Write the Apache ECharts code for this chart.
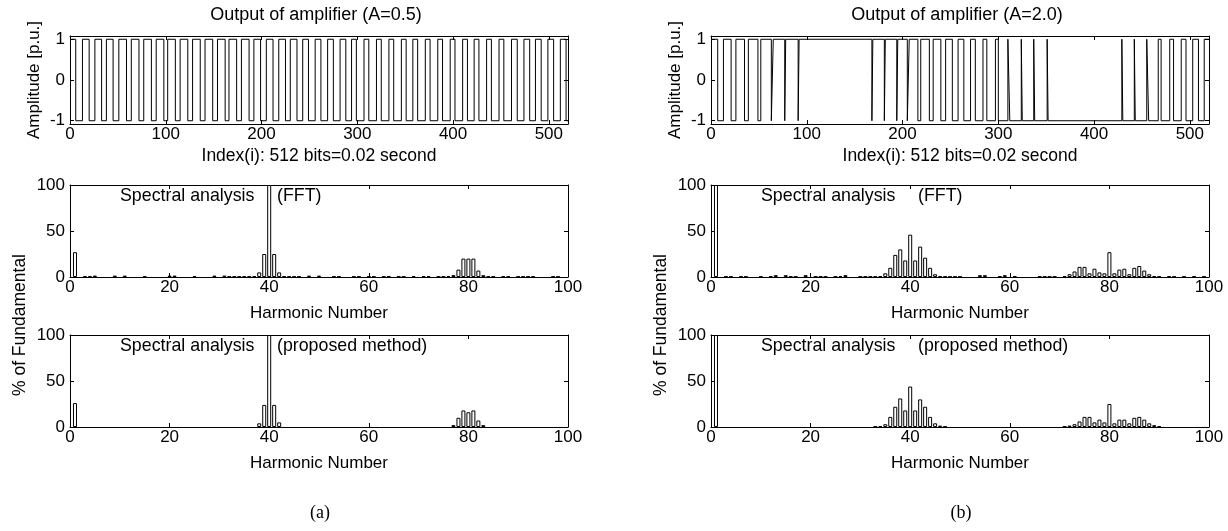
<!DOCTYPE html>
<html>
<head>
<meta charset="utf-8">
<script src="https://cdn.jsdelivr.net/npm/echarts@6/dist/echarts.min.js"></script>
<style>
  html, body { margin: 0; padding: 0; background: #fff; }
  #chart { width: 1228px; height: 531px; }
</style>
</head>
<body>
<div id="chart"></div>
<script>
// bit index where the amplifier output flips, output starts at +1
const edgesA = [6, 13, 20, 26, 33, 38, 45, 51, 59, 64, 72, 77, 85, 90, 98, 102, 110, 115, 123, 128,
  136, 141, 149, 154, 162, 166, 174, 179, 187, 192, 199, 205, 212, 218, 225, 230, 237, 243, 249, 256,
  262, 269, 275, 282, 288, 294, 299, 307, 312, 320, 325, 333, 338, 346, 351, 358, 363, 371, 376, 384,
  389, 397, 402, 410, 415, 422, 427, 435, 440, 448, 453, 461, 467, 474, 480, 486, 492, 499, 505, 512, 518];
const edgesB = [7, 13, 21, 26, 35, 39, 49, 52, 63, 65, 77, 78, 91, 92, 168, 169, 181, 182, 194, 195,
  205, 207, 216, 219, 228, 232, 240, 245, 252, 258, 264, 271, 276, 284, 288, 297, 300, 310, 312, 324,
  325, 337, 338, 351, 352, 429, 430, 442, 443, 455, 457, 467, 470, 479, 483, 491, 496, 503, 509, 515];
const waveEnd = 520;
const indexTicks = [0, 100, 200, 300, 400, 500];
const amplitudeTicks = [-1, 0, 1];

// spectra, [harmonic, % of fundamental]
const fftA = [[1, 27], [3, 1], [4, 1], [5, 1.5], [9, 1.5], [11, 1.5], [15, 1], [20, 1.5], [21, 1.5],
  [25, 1], [29, 1.5], [31, 1.5], [32, 0.5], [33, 0.5], [34, 0.5], [35, 0.5], [36, 0.5], [37, 1],
  [38, 5], [39, 25], [40, 100], [41, 25], [42, 5], [43, 1], [44, 0.5], [45, 0.5], [46, 0.5],
  [48, 1.5], [50, 1.5], [53, 0.5], [54, 0.5], [57, 0.5], [58, 0.5], [60, 0.5], [61, 0.5], [63, 0.5],
  [64, 0.5], [66, 0.5], [67, 0.5], [69, 1], [71, 1], [72, 1], [74, 0.5], [75, 0.5], [76, 1],
  [77, 2], [78, 8], [79, 20], [80, 20], [81, 20], [82, 7], [83, 2], [84, 1], [85, 0.5], [87, 1],
  [88, 1], [90, 0.5], [91, 0.5], [92, 0.5], [93, 0.5], [97, 0.5], [98, 0.5]];
const propA = [[1, 26], [38, 4], [39, 24], [40, 100], [41, 24], [42, 5],
  [77, 2], [78, 10], [79, 18], [80, 16], [81, 18], [82, 7], [83, 2]];
const fftB = [[1, 100], [3, 0.5], [4, 0.5], [6, 0.5], [7, 0.5], [10, 0.5], [12, 1], [13, 2], [15, 2],
  [16, 0.5], [17, 0.5], [19, 2], [21, 0.5], [22, 0.5], [23, 0.5], [25, 0.5], [26, 1], [27, 2],
  [30, 0.5], [31, 0.5], [32, 0.5], [33, 0.5], [34, 1], [35, 4], [36, 10], [37, 24], [38, 30],
  [39, 18], [40, 46], [41, 18], [42, 33], [43, 21], [44, 10], [45, 3], [46, 1], [47, 0.5],
  [48, 0.5], [49, 0.5], [50, 0.5], [54, 2], [55, 2], [58, 1], [59, 2], [61, 1], [66, 0.5],
  [67, 0.5], [68, 0.5], [69, 0.5], [71, 1], [72, 3], [73, 6], [74, 11], [75, 11], [76, 4],
  [77, 9], [78, 5], [79, 4], [80, 27], [81, 4], [82, 8], [83, 9], [84, 3], [85, 10], [86, 12],
  [87, 7], [88, 3], [89, 1], [90, 0.5], [92, 1], [93, 0.5], [95, 0.5], [97, 1], [99, 0.5]];
const propB = [[1, 100], [33, 0.5], [34, 1], [35, 3], [36, 11], [37, 22], [38, 31], [39, 18],
  [40, 44], [41, 18], [42, 30], [43, 22], [44, 11], [45, 4], [46, 1.5], [47, 0.5],
  [71, 0.5], [72, 1.5], [73, 3], [74, 6], [75, 11], [76, 11], [77, 5], [78, 8], [79, 5],
  [80, 25], [81, 4], [82, 8], [83, 8], [84, 4], [85, 10], [86, 11], [87, 8], [88, 4], [89, 2], [90, 1]];

const FONT = "Liberation Sans, Arial, sans-serif";
const SERIF = "Liberation Serif, Times New Roman, serif";
const FS = 17;

// two corner points per flip so every edge is drawn straight up/down
const toStairs = (edges) => {
  let lvl = 1;
  const pts = [[0, 1]];
  edges.forEach((e) => {
    pts.push([e, lvl]);
    lvl = -lvl;
    pts.push([e, lvl]);
  });
  pts.push([waveEnd, lvl]);
  return pts;
};

const grids = [
  { left: 70, top: 36, width: 498, height: 88 },
  { left: 70, top: 185, width: 498, height: 92 },
  { left: 70, top: 335, width: 498, height: 92 },
  { left: 711, top: 36, width: 498, height: 88 },
  { left: 711, top: 185, width: 498, height: 92 },
  { left: 711, top: 335, width: 498, height: 92 }
];

const lineCol = { lineStyle: { color: "#000", width: 1 } };
const xAxes = [];
const yAxes = [];
const series = [];

const addPanel = (gi, isWave, data, xName) => {
  const xRange = isWave ? { min: 0, max: waveEnd } : { min: 0, max: 100, interval: 20 };
  const yRange = isWave ? { min: -1.08, max: 1.08 } : { min: 0, max: 100, interval: 50 };
  const xTick = isWave ? { customValues: indexTicks } : {};
  const yTick = isWave ? { customValues: amplitudeTicks } : {};
  ["bottom", "top"].forEach((pos, k) => {
    xAxes.push({
      type: "value", gridIndex: gi, position: pos, ...xRange,
      name: k === 0 ? xName : "", nameLocation: "middle", nameGap: isWave ? 23 : 28,
      nameTextStyle: { color: "#000", fontFamily: FONT, fontSize: isWave ? 17.5 : FS },
      axisLine: { onZero: false, ...lineCol },
      axisTick: { inside: true, length: 4, ...lineCol, ...xTick },
      axisLabel: { show: k === 0, color: "#000", fontFamily: FONT, fontSize: FS, margin: 2, ...xTick },
      splitLine: { show: false }
    });
  });
  ["left", "right"].forEach((pos, k) => {
    yAxes.push({
      type: "value", gridIndex: gi, position: pos, ...yRange,
      axisLine: { onZero: false, ...lineCol },
      axisTick: { inside: true, length: 4, ...lineCol, ...yTick },
      axisLabel: { show: k === 0, color: "#000", fontFamily: FONT, fontSize: FS, margin: 5, ...yTick },
      splitLine: { show: false }
    });
  });
  const idx = gi * 2;
  if (isWave) {
    series.push({
      type: "line", xAxisIndex: idx, yAxisIndex: idx, data: toStairs(data),
      showSymbol: false, silent: true, lineStyle: { color: "#000", width: 1 }
    });
  } else {
    series.push({
      type: "bar", xAxisIndex: idx, yAxisIndex: idx, data: data, barWidth: 4, silent: true,
      itemStyle: { color: "#fff", borderColor: "#000", borderWidth: 1 }
    });
  }
};

addPanel(0, true, edgesA, "Index(i): 512 bits=0.02 second");
addPanel(1, false, fftA, "Harmonic Number");
addPanel(2, false, propA, "Harmonic Number");
addPanel(3, true, edgesB, "Index(i): 512 bits=0.02 second");
addPanel(4, false, fftB, "Harmonic Number");
addPanel(5, false, propB, "Harmonic Number");

const txt = (text, x, y, opts = {}) => ({
  type: "text", x, y, rotation: opts.rot || 0, silent: true,
  style: {
    text, fill: "#000", font: (opts.size || FS) + "px " + (opts.family || FONT),
    textAlign: opts.align || "left", textVerticalAlign: "middle"
  }
});

const graphic = [];
[0, 641].forEach((dx, i) => {
  const amp = i === 0 ? "0.5" : "2.0";
  graphic.push(txt("Output of amplifier (A=" + amp + ")", 316 + dx, 15, { align: "center", size: 18 }));
  graphic.push(txt("Amplitude [p.u.]", 34 + dx, 80, { align: "center", rot: Math.PI / 2 }));
  graphic.push(txt("% of Fundamental", 20 + dx, 325, { align: "center", rot: Math.PI / 2, size: 17.5 }));
  graphic.push(txt("Spectral analysis", 120 + dx, 196, { size: 17.8 }));
  graphic.push(txt("(FFT)", 277 + dx, 196, { size: 17.8 }));
  graphic.push(txt("Spectral analysis", 120 + dx, 346, { size: 17.8 }));
  graphic.push(txt("(proposed method)", 277 + dx, 346, { size: 17.8 }));
  graphic.push(txt(i === 0 ? "(a)" : "(b)", 320 + dx, 513, { align: "center", size: 18, family: SERIF }));
});

const chart = echarts.init(document.getElementById("chart"));
chart.setOption({
  animation: false,
  backgroundColor: "#fff",
  grid: grids,
  xAxis: xAxes,
  yAxis: yAxes,
  series: series,
  graphic: graphic
});
</script>
</body>
</html>
